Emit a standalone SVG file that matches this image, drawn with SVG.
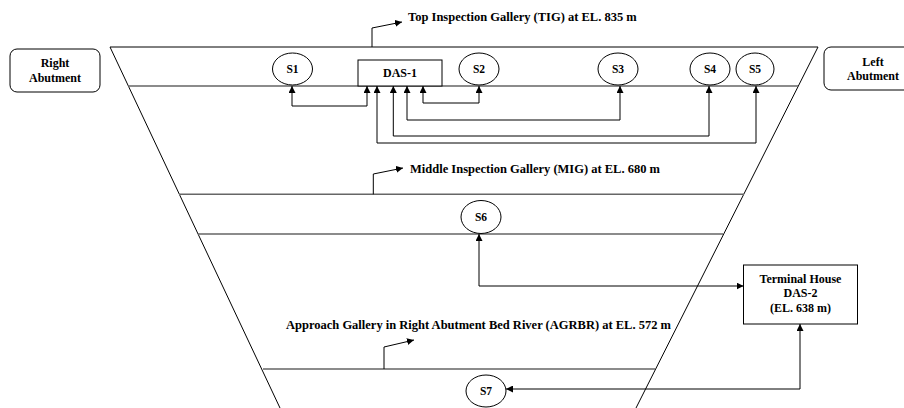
<svg xmlns="http://www.w3.org/2000/svg" width="904" height="408" viewBox="0 0 904 408">
<defs>
<marker id="ah" viewBox="0 0 10 10" refX="10" refY="5" markerWidth="7" markerHeight="7" markerUnits="userSpaceOnUse" orient="auto-start-reverse">
<path d="M0,0 L10,5 L0,10 z" fill="#000"/>
</marker>
<style>
.t{font-family:"Liberation Serif","Times New Roman",serif;font-weight:bold;fill:#000}
.g{font-size:12.5px}
.b{font-size:12px;text-anchor:middle}
.s{font-size:11.5px;text-anchor:middle}
.ol{fill:#fff;stroke:#000;stroke-width:1}
.gal{stroke:#666;stroke-width:1.5;fill:none}
.c{fill:none;stroke:#000;stroke-width:1}
</style>
</defs>
<rect width="904" height="408" fill="#fff"/>
<g id="dam">
<path d="M110,47 L818,47 M110,47 L280,408 M818,47 L636,408" stroke="#000" stroke-width="1" fill="none"/>
<path class="gal" d="M128,86 H798 M179,194.3 H744 M198,234 H723 M263,369 H655"/>
</g>
<g id="labels">
<text class="t g" x="408" y="21">Top Inspection Gallery (TIG) at EL. 835 m</text>
<text class="t g" x="410" y="173">Middle Inspection Gallery (MIG) at EL. 680 m</text>
<text class="t g" x="286" y="329">Approach Gallery in Right Abutment Bed River (AGRBR) at EL. 572 m</text>
</g>
<g id="right-abutment">
<rect class="ol" x="10" y="49" width="90" height="43" rx="7"/>
<text class="t b" x="55" y="67">Right</text>
<text class="t b" x="55" y="82">Abutment</text>
</g>
<g id="left-abutment">
<rect class="ol" x="824" y="47" width="98" height="43" rx="7"/>
<text class="t b" x="873" y="66">Left</text>
<text class="t b" x="873" y="80">Abutment</text>
</g>
<g id="das1">
<rect class="ol" x="358" y="60" width="84" height="26"/>
<text class="t b" x="400" y="77">DAS-1</text>
</g>
<g id="s1"><ellipse class="ol" cx="292.5" cy="69" rx="20" ry="16"/><text class="t s" x="292.5" y="73">S1</text></g>
<g id="s2"><ellipse class="ol" cx="479" cy="69" rx="20" ry="16"/><text class="t s" x="479" y="73">S2</text></g>
<g id="s3"><ellipse class="ol" cx="618" cy="69" rx="20" ry="16"/><text class="t s" x="618" y="73">S3</text></g>
<g id="s4"><ellipse class="ol" cx="710" cy="69" rx="20" ry="16"/><text class="t s" x="710" y="73">S4</text></g>
<g id="s5"><ellipse class="ol" cx="755" cy="69" rx="19" ry="16"/><text class="t s" x="755" y="73">S5</text></g>
<g id="s6"><ellipse class="ol" cx="481" cy="217" rx="20" ry="16.5"/><text class="t s" x="481" y="221">S6</text></g>
<g id="s7"><ellipse class="ol" cx="486" cy="391" rx="20" ry="16"/><text class="t s" x="486" y="395">S7</text></g>
<g id="terminal-house">
<rect class="ol" x="743.5" y="265" width="114" height="59"/>
<text class="t b" x="800.5" y="283">Terminal House</text>
<text class="t b" x="800.5" y="297">DAS-2</text>
<text class="t b" x="800.5" y="312">(EL. 638 m)</text>
</g>
<g id="connectors">
<path class="c" d="M372,47 V28 L402,22" marker-end="url(#ah)"/>
<path class="c" d="M373.3,194.3 V174 L403,168" marker-end="url(#ah)"/>
<path class="c" d="M384,369 V347 L414,340" marker-end="url(#ah)"/>
<path class="c" d="M367,86 V106 H292 V86" marker-start="url(#ah)" marker-end="url(#ah)"/>
<path class="c" d="M423,103 H479 V86" marker-end="url(#ah)"/>
<path class="c" d="M423,103 V86" marker-end="url(#ah)"/>
<path class="c" d="M407,120 H620 V86" marker-end="url(#ah)"/>
<path class="c" d="M407,120 V86" marker-end="url(#ah)"/>
<path class="c" d="M393.3,136 H709 V86" marker-end="url(#ah)"/>
<path class="c" d="M393.3,136 V86" marker-end="url(#ah)"/>
<path class="c" d="M377,143 H756 V86" marker-end="url(#ah)"/>
<path class="c" d="M377,143 V86" marker-end="url(#ah)"/>
<path class="c" d="M479,234 V286 H743.5" marker-start="url(#ah)" marker-end="url(#ah)"/>
<path class="c" d="M800,324 V389 H506" marker-start="url(#ah)" marker-end="url(#ah)"/>
</g>
</svg>
